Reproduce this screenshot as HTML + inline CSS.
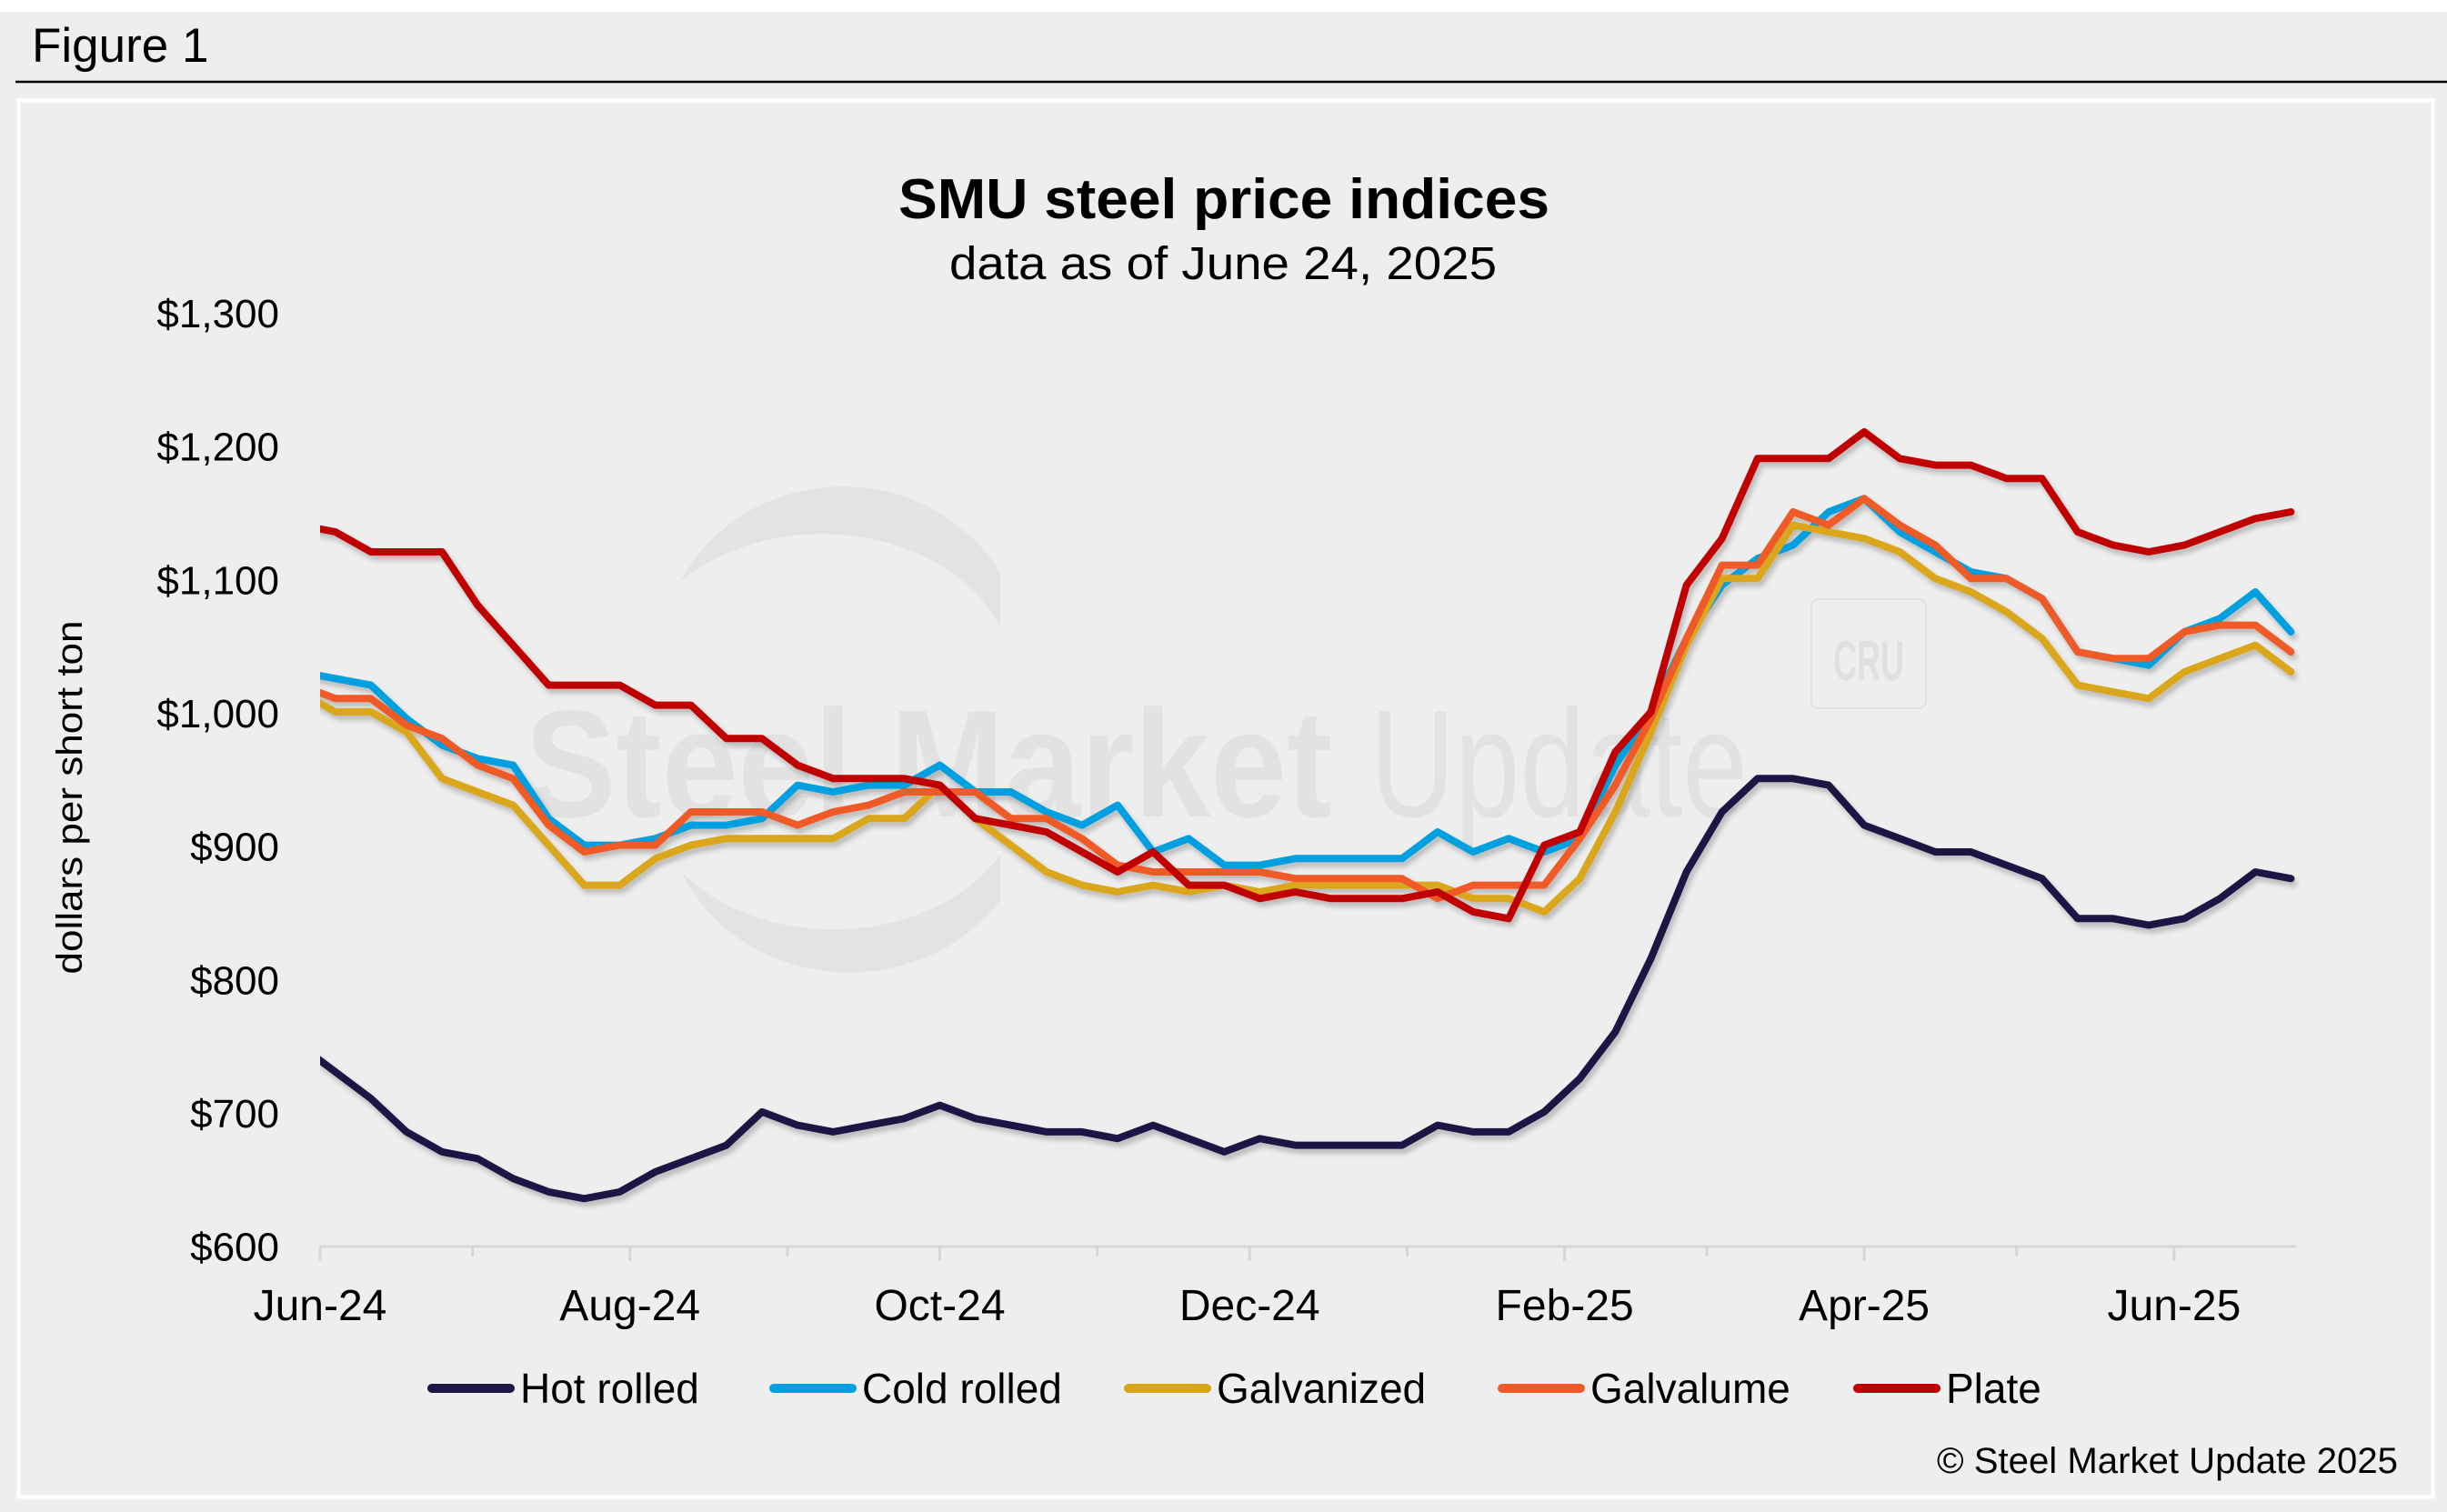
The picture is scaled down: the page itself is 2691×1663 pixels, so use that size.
<!DOCTYPE html>
<html><head><meta charset="utf-8"><style>
html,body{margin:0;padding:0;background:#fff;}
svg{display:block;font-family:"Liberation Sans",Arial,sans-serif;}
</style></head><body>
<svg id="chart" width="2691" height="1663" viewBox="0 0 2691 1663" xmlns="http://www.w3.org/2000/svg">
<defs>
<filter id="sh" x="-5%" y="-10%" width="110%" height="130%"><feDropShadow dx="3" dy="5" stdDeviation="3" flood-color="#000" flood-opacity="0.22"/></filter>
<clipPath id="plotclip"><rect x="352" y="300" width="2185" height="1100"/></clipPath>
</defs>
<rect x="0" y="13" width="2691" height="1650" fill="#eeeeee"/>
<text x="35" y="68" font-size="53" fill="#000">Figure 1</text>
<line x1="17" y1="90" x2="2691" y2="90" stroke="#000" stroke-width="2.5"/>
<rect x="20.5" y="110.5" width="2655" height="1536" fill="#eeeeee" stroke="#ffffff" stroke-width="4"/>

<g opacity="1">
<path d="M748,640 A200,190 0 0 1 1100,630 L1100,690 A210,160 0 0 0 748,640 Z" fill="#e3e3e3"/>
<path d="M750,960 A200,180 0 0 0 1100,990 L1100,940 A210,160 0 0 1 750,960 Z" fill="#e3e3e3"/>
<text x="577" y="898" font-size="168" font-weight="bold" fill="#e2e2e2" textLength="888" lengthAdjust="spacingAndGlyphs">Steel Market</text>
<text x="1507" y="898" font-size="168" fill="#e2e2e2" textLength="415" lengthAdjust="spacingAndGlyphs">Update</text>
<rect x="1992" y="659" width="126" height="120" rx="8" fill="none" stroke="#e2e2e2" stroke-width="2"/>
<text x="2055" y="748" font-size="62" font-weight="bold" fill="#e0e0e0" text-anchor="middle" textLength="78" lengthAdjust="spacingAndGlyphs">CRU</text>
</g>

<text x="1346" y="240" font-size="62" font-weight="bold" text-anchor="middle" textLength="716" lengthAdjust="spacingAndGlyphs">SMU steel price indices</text>
<text x="1345" y="307" font-size="51" text-anchor="middle" textLength="602" lengthAdjust="spacingAndGlyphs">data as of June 24, 2025</text>
<text transform="translate(90,877) rotate(-90)" font-size="40" text-anchor="middle" textLength="389" lengthAdjust="spacingAndGlyphs">dollars per short ton</text>
<text x="2637" y="1620" font-size="40" text-anchor="end" textLength="507" lengthAdjust="spacingAndGlyphs">© Steel Market Update 2025</text>

<g id="yaxis"></g>
<g id="xaxis"></g>
<g id="series" clip-path="url(#plotclip)" filter="url(#sh)"></g>
<g id="legend"></g>
</svg>
<script>
const dates = ["2024-05-28","2024-06-04","2024-06-11","2024-06-18","2024-06-25","2024-07-02","2024-07-09","2024-07-16","2024-07-23","2024-07-30","2024-08-06","2024-08-13","2024-08-20","2024-08-27","2024-09-03","2024-09-10","2024-09-17","2024-09-24","2024-10-01","2024-10-08","2024-10-15","2024-10-22","2024-10-29","2024-11-05","2024-11-12","2024-11-19","2024-11-26","2024-12-03","2024-12-10","2024-12-17","2024-12-24","2024-12-31","2025-01-07","2025-01-14","2025-01-21","2025-01-28","2025-02-04","2025-02-11","2025-02-18","2025-02-25","2025-03-04","2025-03-11","2025-03-18","2025-03-25","2025-04-01","2025-04-08","2025-04-15","2025-04-22","2025-04-29","2025-05-06","2025-05-13","2025-05-20","2025-05-27","2025-06-03","2025-06-10","2025-06-17","2025-06-24"];
const hotRolled = [750,730,710,685,670,665,650,640,635,640,655,665,675,700,690,685,690,695,705,695,690,685,685,680,690,680,670,680,675,675,675,675,690,685,685,700,725,760,815,880,925,950,950,945,915,905,895,895,885,875,845,845,840,845,860,880,875];
const coldRolled = [1030,1025,1020,995,975,965,960,920,900,900,905,915,915,920,945,940,945,945,960,940,940,925,915,930,895,905,885,885,890,890,890,890,910,895,905,895,905,960,1000,1055,1095,1115,1125,1150,1160,1135,1120,1105,1100,1085,1045,1040,1035,1060,1070,1090,1060];
const galvanized = [1015,1000,1000,985,950,940,930,900,870,870,890,900,905,905,905,905,920,920,945,920,900,880,870,865,870,865,870,865,870,870,870,870,870,860,860,850,875,925,985,1050,1100,1100,1140,1135,1130,1120,1100,1090,1075,1055,1020,1015,1010,1030,1040,1050,1030];
const galvalume = [1020,1010,1010,990,980,960,950,915,895,900,900,925,925,925,915,925,930,940,940,940,920,920,905,885,880,880,880,880,875,875,875,875,860,870,870,870,905,945,995,1055,1110,1110,1150,1140,1160,1140,1125,1100,1100,1085,1045,1040,1040,1060,1065,1065,1045];
const plate = [1140,1135,1120,1120,1120,1080,1050,1020,1020,1020,1005,1005,980,980,960,950,950,950,945,920,915,910,895,880,895,870,870,860,865,860,860,860,865,850,845,900,910,970,1000,1095,1130,1190,1190,1190,1210,1190,1185,1185,1175,1175,1135,1125,1120,1125,1135,1145,1150];
const seriesNames = ["Hot rolled","Cold rolled","Galvanized","Galvalume","Plate"];
const yTicks = [600,700,800,900,1000,1100,1200,1300];
const xTickLabels = ["Jun-24","Aug-24","Oct-24","Dec-24","Feb-25","Apr-25","Jun-25"];
const xTickDates = ["2024-06-01","2024-08-01","2024-10-01","2024-12-01","2025-02-01","2025-04-01","2025-06-01"];
const minorTickDates = ["2024-07-01","2024-09-01","2024-11-01","2025-01-01","2025-03-01","2025-05-01"];

const NS="http://www.w3.org/2000/svg";
const colors=["#1e1745","#009fdf","#d9a61a","#f05a28","#c00000"];
const allSeries=[hotRolled,coldRolled,galvanized,galvalume,plate];
const X0=352, PXDAY=5.586, Y0=1369.6, PX100=146.66;
const axisStart=Date.UTC(2024,5,1), axisEnd=Date.UTC(2025,5,25);
function dayOf(s){const p=s.split("-");return (Date.UTC(+p[0],+p[1]-1,+p[2])-axisStart)/86400000;}
function xScale(s){return X0+dayOf(s)*PXDAY;}
function yScale(v){return Y0-(v-600)*PX100/100;}
function el(tag,attrs,parent){const e=document.createElementNS(NS,tag);for(const k in attrs)e.setAttribute(k,attrs[k]);parent.appendChild(e);return e;}

const yaxis=document.getElementById("yaxis");
yTicks.forEach(v=>{
  const t=el("text",{x:307,y:(yScale(v)+17).toFixed(1),"font-size":44,"text-anchor":"end"},yaxis);
  
  
  t.textContent="$"+v.toLocaleString("en-US");
});

const xaxis=document.getElementById("xaxis");
const xEnd=X0+(axisEnd-axisStart)/86400000*PXDAY;
const al=el("line",{x1:X0,y1:1371,x2:xEnd,y2:1371,stroke:"#d6d6d6","stroke-width":3},xaxis);


xTickDates.forEach((d,i)=>{
  const x=xScale(d);
  const tk=el("line",{x1:x,y1:1371,x2:x,y2:1387,stroke:"#d6d6d6","stroke-width":3},xaxis);
  
  
  const t=el("text",{x:x.toFixed(1),y:1452,"font-size":48,"text-anchor":"middle"},xaxis);
  
  
  t.textContent=xTickLabels[i];
});
minorTickDates.forEach(d=>{
  const x=xScale(d);
  const tk=el("line",{x1:x,y1:1371,x2:x,y2:1382,stroke:"#d6d6d6","stroke-width":3},xaxis);
  
  
});

const sg=document.getElementById("series");
allSeries.forEach((vals,si)=>{
  const pts=vals.map((v,i)=>xScale(dates[i]).toFixed(1)+","+yScale(v).toFixed(1)).join(" ");
  const pl=el("polyline",{points:pts,fill:"none",stroke:colors[si],"stroke-width":8,"stroke-linejoin":"round","stroke-linecap":"round"},sg);
  
  
});

const lg=document.getElementById("legend");
const legX=[470,846,1236,1647,2038];
seriesNames.forEach((n,i)=>{
  const g=el("g",{},lg);
  
  
  el("line",{x1:legX[i]+5,y1:1527,x2:legX[i]+91,y2:1527,stroke:colors[i],"stroke-width":10,"stroke-linecap":"round"},g);
  const t=el("text",{x:legX[i]+102,y:1543,"font-size":46},g);
  t.textContent=n;
});
</script>
</body></html>
